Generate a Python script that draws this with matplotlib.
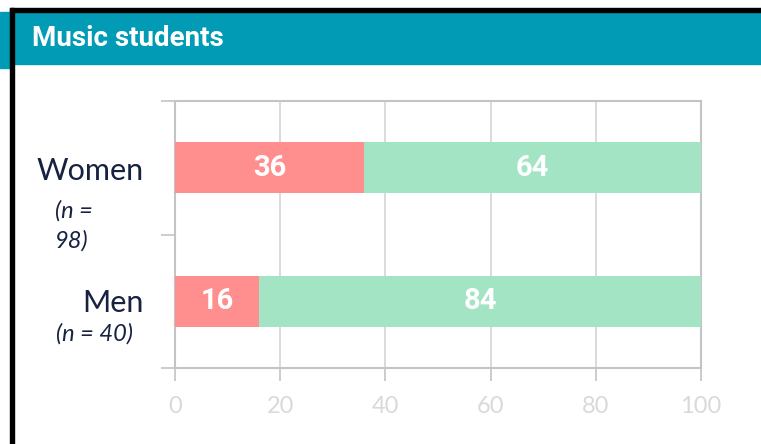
import matplotlib.pyplot as plt
from matplotlib.patches import Rectangle

groups = ["Women", "Men"]
sample_notes = ["(n =\n98)", "(n = 40)"]
first_share = [36, 16]
second_share = [64, 84]
ticks = [0, 20, 40, 60, 80, 100]

red = "#ff8f8f"
green = "#a3e4c4"
teal = "#019bb5"
navy = "#172240"
grey = "#c4c4c4"

fig = plt.figure(figsize=(7.61, 4.44), dpi=100)
W, H = 761, 444

# header band + black frame lines
fig.patches.append(Rectangle((0, 1 - 64 / H), 1, 52 / H, transform=fig.transFigure, color=teal, zorder=0))
fig.patches.append(Rectangle((0, 1 - 68 / H), 12 / W, 10 / H, transform=fig.transFigure, color=teal, zorder=0))
fig.patches.append(Rectangle((10 / W, 1 - 12 / H), 1, 4 / H, transform=fig.transFigure, color="black", zorder=1))
fig.patches.append(Rectangle((10 / W, 0), 4 / W, 1 - 8 / H, transform=fig.transFigure, color="black", zorder=1))
fig.text(32 / W, 1 - 39 / H, "Music students", color="white", fontsize=20, fontweight="bold",
         family="Roboto", va="center", ha="left")

ax = fig.add_axes([175 / W, 1 - 368 / H, 526 / W, 267 / H])
ypos = list(range(len(groups)))
ax.barh(ypos, first_share, height=0.385, color=red, zorder=3)
ax.barh(ypos, second_share, left=first_share, height=0.385, color=green, zorder=3)

for i in ypos:
    ax.text(first_share[i] / 2, i, str(first_share[i]), ha="center", va="center", color="white",
            fontsize=21, fontweight="bold", family="Roboto", zorder=4)
    ax.text(first_share[i] + second_share[i] / 2, i, str(second_share[i]), ha="center", va="center",
            color="white", fontsize=21, fontweight="bold", family="Roboto", zorder=4)

ax.set_xlim(0, 100)
ax.set_ylim(len(groups) - 0.5, -0.5)
ax.set_xticks(ticks)
ax.set_xticklabels([str(t) for t in ticks], color="#d9d9d9", fontsize=17, family="Lato")
ax.tick_params(axis="x", length=9, width=1.2, color=grey, pad=11)
ax.set_yticks([-0.5, 0.5, 1.5])
ax.set_yticklabels([])
ax.tick_params(axis="y", length=10, width=1.2, color=grey)
ax.grid(axis="x", color="#d4d4d4", linewidth=1.2, zorder=0)
for s in ax.spines.values():
    s.set_color(grey)
    s.set_linewidth(1.5)

# category labels
ax.annotate(groups[0], xy=(0, 0), xytext=(-31, -3), textcoords="offset pixels", ha="right",
            va="center", fontsize=22, color=navy, family="Lato", annotation_clip=False)
ax.annotate(sample_notes[0], xy=(0, 0), xytext=(-120, -58), textcoords="offset pixels", ha="left",
            va="center", fontsize=17, color=navy, family="Lato", style="italic",
            linespacing=1.45, annotation_clip=False)
ax.annotate(groups[1], xy=(0, 1), xytext=(-31, -2), textcoords="offset pixels", ha="right",
            va="center", fontsize=22, color=navy, family="Lato", annotation_clip=False)
ax.annotate(sample_notes[1], xy=(0, 1), xytext=(-81, -33), textcoords="offset pixels", ha="center",
            va="center", fontsize=17, color=navy, family="Lato", style="italic",
            annotation_clip=False)

fig.savefig("out.png", dpi=100)
